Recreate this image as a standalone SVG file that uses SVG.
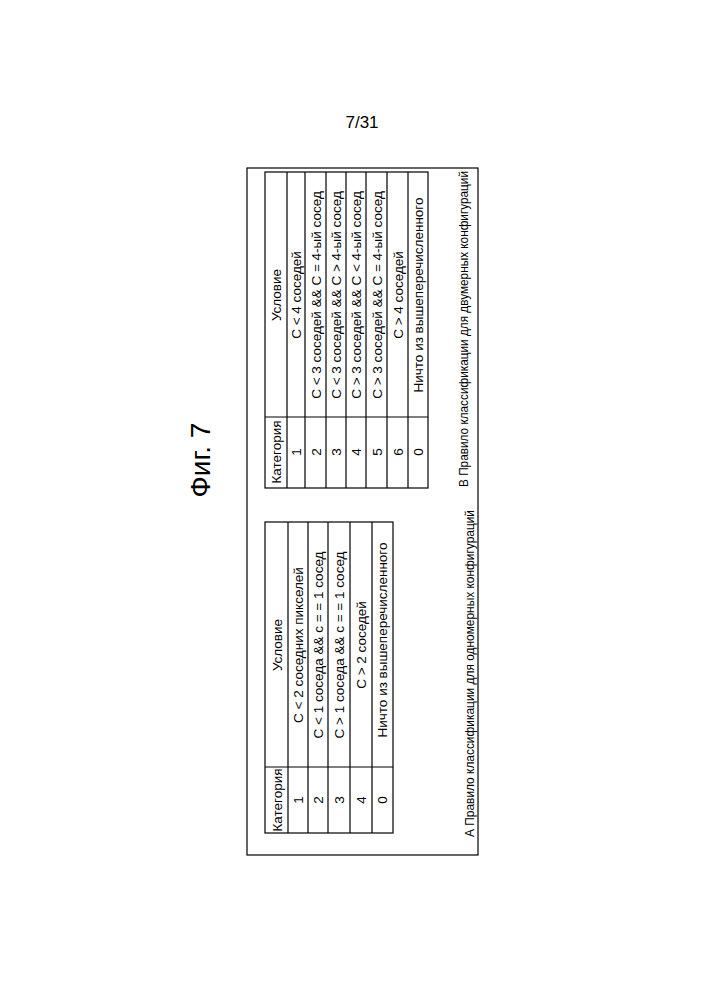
<svg xmlns="http://www.w3.org/2000/svg" width="707" height="1000" viewBox="0 0 707 1000">
<style>
text{font-family:"Liberation Sans",Arial,sans-serif;font-size:13.5px;fill:#000;text-anchor:middle;dominant-baseline:central}
.ln{stroke:#000;stroke-width:1.2;fill:none}
.cap{text-anchor:start;font-size:13px}
</style>
<rect width="707" height="1000" fill="#fff"/>
<text x="362" y="122" style="font-size:17px">7/31</text>
<text x="200" y="460" transform="rotate(-90 200 460)" style="font-size:28px">Фиг. 7</text>
<rect class="ln" x="247" y="168" width="231" height="687" stroke-width="1.5"/>
<g id="tableB">
<rect class="ln" x="265" y="172" width="163" height="316"/>
<path class="ln" d="M287 172V488M305 172V488M326 172V488M346 172V488M366 172V488M387 172V488M408 172V488M265 417H428"/>
<g transform="rotate(-90 0 0)">
<text x="-452" y="276">Категория</text><text x="-295" y="276">Условие</text>
<text x="-452" y="296">1</text><text x="-295" y="296">С &lt; 4 соседей</text>
<text x="-452" y="316">2</text><text x="-295" y="316">С &lt; 3 соседей &amp;&amp; С = 4-ый сосед</text>
<text x="-452" y="336">3</text><text x="-295" y="336">С &lt; 3 соседей &amp;&amp; С &gt; 4-ый сосед</text>
<text x="-452" y="356">4</text><text x="-295" y="356">С &gt; 3 соседей &amp;&amp; С &lt; 4-ый сосед</text>
<text x="-452" y="377">5</text><text x="-295" y="377">С &gt; 3 соседей &amp;&amp; С = 4-ый сосед</text>
<text x="-452" y="398">6</text><text x="-295" y="398">С &gt; 4 соседей</text>
<text x="-452" y="418">0</text><text x="-295" y="418">Ничто из вышеперечисленного</text>
<text class="cap" x="-487" y="463" textLength="316" lengthAdjust="spacingAndGlyphs">В Правило классификации для двумерных конфигураций</text>
</g>
</g>
<g id="tableA">
<rect class="ln" x="265" y="522" width="128" height="311"/>
<path class="ln" d="M288 522V833M308 522V833M328 522V833M350 522V833M372 522V833M265 767H393"/>
<g transform="rotate(-90 0 0)">
<text x="-800" y="277">Категория</text><text x="-645" y="277">Условие</text>
<text x="-800" y="298">1</text><text x="-645" y="298">С &lt; 2 соседних пикселей</text>
<text x="-800" y="318">2</text><text x="-645" y="318">С &lt; 1 соседа &amp;&amp; с = = 1 сосед</text>
<text x="-800" y="339">3</text><text x="-645" y="339">С &gt; 1 соседа &amp;&amp; с = = 1 сосед</text>
<text x="-800" y="361">4</text><text x="-645" y="361">С &gt; 2 соседей</text>
<text x="-800" y="382">0</text><text x="-640" y="382">Ничто из вышеперечисленного</text>
<text class="cap" x="-837" y="469" textLength="327" lengthAdjust="spacingAndGlyphs">А Правило классификации для одномерных конфигураций</text>
</g>
</g>
</svg>
